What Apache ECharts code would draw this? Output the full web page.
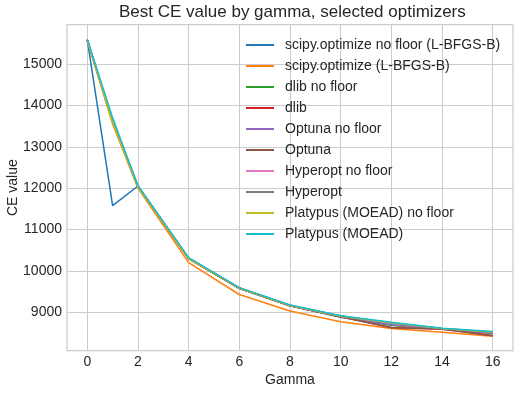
<!DOCTYPE html>
<html><head><meta charset="utf-8">
<script src="https://cdn.jsdelivr.net/npm/echarts@6/dist/echarts.min.js"></script>
<style>html,body{margin:0;padding:0;background:#fff}#c{width:521px;height:394px}</style>
</head><body><div id="c"></div>
<script>
const gammas = [0, 1, 2, 4, 6, 8, 10, 12, 14, 16];
const xTicks = [0, 2, 4, 6, 8, 10, 12, 14, 16];
const yTicks = [9000, 10000, 11000, 12000, 13000, 14000, 15000];
const names = ["scipy.optimize no floor (L-BFGS-B)", "scipy.optimize (L-BFGS-B)", "dlib no floor", "dlib", "Optuna no floor", "Optuna", "Hyperopt no floor", "Hyperopt", "Platypus (MOEAD) no floor", "Platypus (MOEAD)"];
const colors = ["#1f77b4", "#ff7f0e", "#2ca02c", "#d62728", "#9467bd", "#8c564b", "#e377c2", "#7f7f7f", "#bcbd22", "#17becf"];
const scipyNoFloor = [15590, 11577, 12052, 10300, 9580, 9160, 8880, 8700, 8600, 8500];
const scipyFloor   = [15560, 13550, 12000, 10200, 9430, 9030, 8770, 8610, 8515, 8420];
const dlibNoFloor  = [15580, 13620, 12040, 10300, 9580, 9160, 8900, 8680, 8600, 8490];
const dlibFloor    = [15580, 13620, 12040, 10300, 9580, 9160, 8890, 8630, 8590, 8440];
const optunaNoFloor= [15580, 13630, 12040, 10305, 9585, 9165, 8900, 8690, 8605, 8495];
const optunaFloor  = [15580, 13620, 12040, 10300, 9580, 9160, 8890, 8625, 8595, 8435];
const hyperNoFloor = [15585, 13640, 12045, 10310, 9590, 9170, 8910, 8740, 8610, 8520];
const hyperFloor   = [15585, 13640, 12045, 10310, 9590, 9170, 8910, 8740, 8610, 8515];
const platNoFloor  = [15560, 13580, 12020, 10300, 9585, 9165, 8905, 8745, 8610, 8525];
const platFloor    = [15596, 13700, 12060, 10320, 9596, 9177, 8919, 8760, 8614, 8533];
const allSeries = [scipyNoFloor, scipyFloor, dlibNoFloor, dlibFloor, optunaNoFloor, optunaFloor, hyperNoFloor, hyperFloor, platNoFloor, platFloor];

const font = "Liberation Sans, Arial, sans-serif";
const txt = "#262626";
const chart = echarts.init(document.getElementById('c'), null, {renderer: 'canvas'});
chart.setOption({
  animation: false,
  backgroundColor: '#ffffff',
  title: {text: 'Best CE value by gamma, selected optimizers', left: 114, top: 1, padding: [3, 5, 3, 5],
    textStyle: {fontFamily: font, fontSize: 17, fontWeight: 'normal', color: txt}},
  grid: {left: 67, top: 24.5, right: 8, bottom: 43.3, show: true, borderColor: '#cccccc', borderWidth: 1.25,
    containLabel: false, outerBoundsMode: 'none'},
  legend: {left: 246, top: 37, padding: 0, orient: 'vertical', itemWidth: 28, itemHeight: 2, itemGap: 5,
    icon: 'rect',
    data: names.map(n => ({name: n})),
    textStyle: {fontFamily: font, fontSize: 14, color: txt, padding: [0, 0, 0, 6], lineHeight: 16}},
  xAxis: {type: 'value', min: -0.8, max: 16.8, name: 'Gamma', nameLocation: 'middle', nameGap: 22,
    nameMoveOverlap: false,
    nameTextStyle: {fontFamily: font, fontSize: 14, color: txt},
    axisLine: {show: false}, axisTick: {show: false, customValues: xTicks},
    axisLabel: {customValues: xTicks, fontFamily: font, fontSize: 14, color: txt, margin: 4},
    splitLine: {show: true, lineStyle: {color: '#cccccc', width: 1}}},
  yAxis: {type: 'value', min: 8072, max: 15954, name: 'CE value', nameLocation: 'middle', nameGap: 47,
    nameMoveOverlap: false,
    nameTextStyle: {fontFamily: font, fontSize: 14, color: txt},
    axisLine: {show: false}, axisTick: {show: false, customValues: yTicks},
    axisLabel: {customValues: yTicks, fontFamily: font, fontSize: 14, color: txt, margin: 5,
      formatter: v => String(v)},
    splitLine: {show: true, lineStyle: {color: '#cccccc', width: 1}}},
  series: names.map((n, i) => ({
    name: n, type: 'line', symbol: 'none', color: colors[i],
    lineStyle: {width: 1.5, color: colors[i]},
    data: gammas.map((g, j) => [g, allSeries[i][j]])
  }))
});
</script></body></html>
